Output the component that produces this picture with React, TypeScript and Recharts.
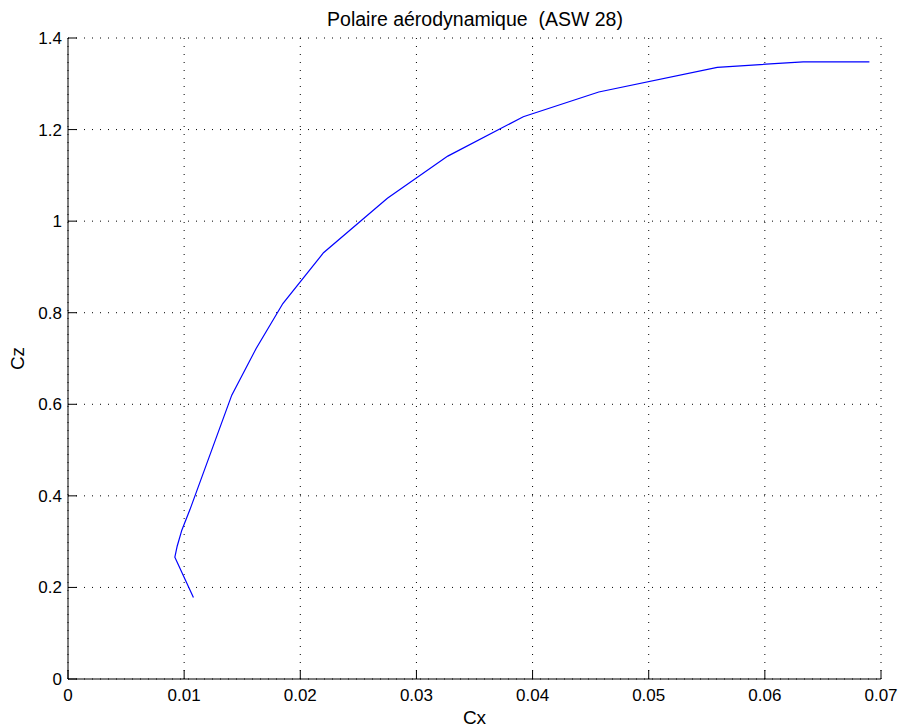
import React from 'react';
import { LineChart, Line, XAxis, YAxis, CartesianGrid } from 'recharts';

// Drag polar of the ASW 28 glider: drag coefficient (Cx) vs lift coefficient (Cz)
const cxValues = [0.0108, 0.0092, 0.0094, 0.0098, 0.0105, 0.0141, 0.0162, 0.0185, 0.022, 0.0275, 0.0327, 0.0392, 0.0457, 0.0559, 0.0633, 0.069];
const czValues = [0.178, 0.266, 0.29, 0.325, 0.37, 0.62, 0.722, 0.82, 0.931, 1.05, 1.142, 1.228, 1.282, 1.336, 1.348, 1.348];

const xTicks = [0, 0.01, 0.02, 0.03, 0.04, 0.05, 0.06, 0.07];
const xTickLabels = ['0', '0.01', '0.02', '0.03', '0.04', '0.05', '0.06', '0.07'];
const yTicks = [0, 0.2, 0.4, 0.6, 0.8, 1, 1.2, 1.4];
const yTickLabels = ['0', '0.2', '0.4', '0.6', '0.8', '1', '1.2', '1.4'];

const title = 'Polaire aérodynamique  (ASW 28)';
const xLabel = 'Cx';
const yLabel = 'Cz';

const data = cxValues.map((cx, i) => ({ cx, cz: czValues[i] }));

const W = 900;
const H = 728;
const FONT = '"Liberation Sans", Arial, Helvetica, sans-serif';
const TICK_FONT_SIZE = 17;

const XTick = (props: any) => {
  const { x, y, payload } = props;
  const i = xTicks.indexOf(payload.value);
  return (
    <g>
      <line x1={x} y1={y} x2={x} y2={y - 9} stroke="#000" strokeWidth={1} />
      <text x={x} y={y + 22} textAnchor="middle" fontSize={TICK_FONT_SIZE} fontFamily={FONT} fill="#000">
        {i >= 0 ? xTickLabels[i] : payload.value}
      </text>
    </g>
  );
};

const YTick = (props: any) => {
  const { x, y, payload } = props;
  const i = yTicks.indexOf(payload.value);
  return (
    <g>
      <line x1={x} y1={y} x2={x + 9} y2={y} stroke="#000" strokeWidth={1} />
      <text x={x - 6} y={y + 6} textAnchor="end" fontSize={TICK_FONT_SIZE} fontFamily={FONT} fill="#000">
        {i >= 0 ? yTickLabels[i] : payload.value}
      </text>
    </g>
  );
};

export default function App() {
  return (
    <div style={{ position: 'absolute', left: 0, top: 0, width: W, height: H, background: '#fff' }}>
      <LineChart
        width={W}
        height={H}
        data={data}
        margin={{ top: 38, right: 19, bottom: 19, left: 8 }}
      >
        <CartesianGrid stroke="#000" strokeDasharray="1 7" />
        <XAxis
          type="number"
          dataKey="cx"
          domain={[0, 0.07]}
          ticks={xTicks}
          interval={0}
          height={30}
          tickSize={0}
          tickMargin={0}
          tickLine={false}
          axisLine={{ stroke: '#000' }}
          tick={<XTick />}
        />
        <YAxis
          type="number"
          dataKey="cz"
          domain={[0, 1.4]}
          ticks={yTicks}
          interval={0}
          width={60}
          tickSize={0}
          tickMargin={0}
          tickLine={false}
          axisLine={{ stroke: '#000' }}
          tick={<YTick />}
        />
        <Line
          type="linear"
          dataKey="cz"
          stroke="#0000ff"
          strokeWidth={1.2}
          dot={false}
          isAnimationActive={false}
        />
      </LineChart>
      <svg
        width={W}
        height={H}
        style={{ position: 'absolute', left: 0, top: 0, pointerEvents: 'none' }}
      >
        <text
          x={475}
          y={26}
          textAnchor="middle"
          fontSize={19.5}
          fontFamily={FONT}
          fill="#000"
          style={{ whiteSpace: 'pre' }}
        >
          {title}
        </text>
        <text x={474.5} y={724} textAnchor="middle" fontSize={19} fontFamily={FONT} fill="#000">
          {xLabel}
        </text>
        <text
          x={0}
          y={0}
          transform="translate(24 358.5) rotate(-90)"
          textAnchor="middle"
          fontSize={19}
          fontFamily={FONT}
          fill="#000"
        >
          {yLabel}
        </text>
      </svg>
    </div>
  );
}
